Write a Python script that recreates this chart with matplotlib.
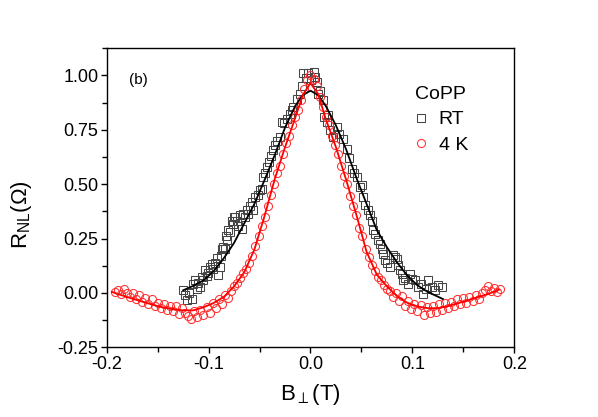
import matplotlib
matplotlib.use("Agg")
import matplotlib.pyplot as plt
from matplotlib.ticker import MultipleLocator, FormatStrFormatter

plt.rcParams['font.family'] = ['Liberation Sans', 'DejaVu Sans']
plt.rcParams['mathtext.fontset'] = 'custom'
plt.rcParams['mathtext.rm'] = 'Liberation Sans'
plt.rcParams['mathtext.it'] = 'Liberation Sans:italic'
plt.rcParams['mathtext.fallback'] = 'stixsans'
plt.rcParams['axes.unicode_minus'] = False

# ---------------- data ----------------
rt_x = [-0.1248, -0.123, -0.1216, -0.1195, -0.1167, -0.115, -0.1133, -0.1117, -0.110, -0.108,
        -0.1068, -0.105, -0.1035, -0.1018, -0.1002, -0.0985, -0.097, -0.0953, -0.0937, -0.092,
        -0.0905, -0.089, -0.0875, -0.087, -0.0855, -0.084, -0.083, -0.0822, -0.081, -0.079,
        -0.0775, -0.0758, -0.0755, -0.0741, -0.0725, -0.0708, -0.069, -0.0675, -0.066, -0.0643,
        -0.0625, -0.061, -0.059, -0.0575, -0.0561, -0.054, -0.0512, -0.0496, -0.048, -0.0463,
        -0.045, -0.043, -0.041, -0.039, -0.0365, -0.035, -0.033, -0.030, -0.0283, -0.026,
        -0.0235, -0.0201, -0.0185, -0.0169, -0.0135, -0.0103, -0.0085, -0.007, -0.0045, -0.002,
        0.0005, 0.003, 0.0045, 0.006, 0.0077, 0.0095, 0.0126, 0.0135, 0.0159, 0.017,
        0.019, 0.0224, 0.0257, 0.028, 0.0322, 0.0355, 0.038, 0.0404, 0.0425, 0.0453,
        0.0486, 0.0502, 0.0518, 0.0535, 0.0567, 0.0584, 0.060, 0.0616, 0.063, 0.0665,
        0.0682, 0.070, 0.0714, 0.073, 0.0755, 0.078, 0.0812, 0.083, 0.0846, 0.086,
        0.0878, 0.0895, 0.0911, 0.093, 0.096, 0.0976, 0.100, 0.1026, 0.1058, 0.108,
        0.1107, 0.113, 0.1156, 0.119, 0.1222, 0.1254, 0.1288]
rt_y = [0.012, -0.010, -0.034, 0.000, -0.026, 0.040, 0.058, 0.020, 0.045, 0.028,
        0.074, 0.060, 0.104, 0.080, 0.090, 0.120, 0.135, 0.110, 0.140, 0.160,
        0.081, 0.120, 0.170, 0.204, 0.210, 0.200, 0.260, 0.242, 0.290, 0.281,
        0.330, 0.319, 0.350, 0.350, 0.330, 0.310, 0.360, 0.296, 0.365, 0.350,
        0.380, 0.365, 0.400, 0.420, 0.380, 0.440, 0.450, 0.472, 0.480, 0.534,
        0.550, 0.580, 0.600, 0.630, 0.656, 0.680, 0.700, 0.718, 0.787, 0.780,
        0.800, 0.825, 0.840, 0.856, 0.890, 0.917, 0.950, 1.010, 0.990, 1.010,
        0.980, 1.016, 0.995, 0.970, 0.917, 0.930, 0.886, 0.810, 0.787, 0.820,
        0.748, 0.718, 0.764, 0.730, 0.710, 0.664, 0.620, 0.572, 0.550, 0.534,
        0.488, 0.495, 0.440, 0.403, 0.380, 0.360, 0.330, 0.288, 0.270, 0.242,
        0.227, 0.200, 0.181, 0.150, 0.140, 0.120, 0.173, 0.165, 0.158, 0.130,
        0.104, 0.085, 0.058, 0.070, 0.043, 0.089, 0.065, 0.058, 0.028, 0.040,
        -0.003, 0.020, 0.058, 0.028, 0.012, 0.035, 0.028]

lt_x = [-0.192, -0.189, -0.186, -0.183, -0.180, -0.177, -0.174, -0.171, -0.168, -0.165,
        -0.162, -0.159, -0.156, -0.153, -0.150, -0.147, -0.144, -0.141, -0.138, -0.135,
        -0.132, -0.129, -0.126, -0.123, -0.120, -0.117, -0.114, -0.111, -0.108, -0.105,
        -0.102, -0.099, -0.096, -0.093, -0.090, -0.087, -0.084, -0.081, -0.078, -0.075,
        -0.072, -0.069, -0.066, -0.063, -0.060, -0.057, -0.054, -0.051, -0.048, -0.045,
        -0.042, -0.039, -0.036, -0.033, -0.030, -0.027, -0.024, -0.021, -0.018, -0.015,
        -0.012, -0.009, -0.006, -0.003, 0.000, 0.003, 0.006, 0.009, 0.012, 0.015,
        0.018, 0.021, 0.024, 0.027, 0.030, 0.033, 0.036, 0.039, 0.042, 0.045,
        0.048, 0.051, 0.054, 0.057, 0.060, 0.063, 0.066, 0.069, 0.072, 0.075,
        0.078, 0.081, 0.084, 0.087, 0.090, 0.093, 0.096, 0.099, 0.102, 0.105,
        0.108, 0.111, 0.114, 0.117, 0.120, 0.123, 0.126, 0.129, 0.132, 0.135,
        0.138, 0.141, 0.144, 0.147, 0.150, 0.153, 0.156, 0.159, 0.162, 0.165,
        0.168, 0.171, 0.174, 0.177, 0.180, 0.183, 0.186]
lt_y = [0.005, 0.015, -0.005, 0.018, 0.000, -0.018, 0.002, -0.030, -0.010, -0.040,
        -0.022, -0.050, -0.030, -0.058, -0.045, -0.070, -0.050, -0.078, -0.058, -0.085,
        -0.062, -0.098, -0.070, -0.090, -0.108, -0.120, -0.085, -0.110, -0.078, -0.100,
        -0.065, -0.090, -0.045, -0.068, -0.030, -0.050, -0.008, -0.025, 0.010, 0.030,
        0.045, 0.070, 0.090, 0.110, 0.140, 0.170, 0.215, 0.260, 0.310, 0.350,
        0.400, 0.450, 0.500, 0.550, 0.585, 0.640, 0.690, 0.720, 0.770, 0.810,
        0.840, 0.885, 0.940, 0.980, 1.000, 0.985, 0.950, 0.900, 0.855, 0.810,
        0.770, 0.720, 0.680, 0.640, 0.585, 0.540, 0.500, 0.445, 0.400, 0.360,
        0.300, 0.260, 0.200, 0.165, 0.130, 0.100, 0.075, 0.060, 0.035, 0.020,
        0.010, -0.018, 0.000, -0.035, -0.015, -0.058, -0.035, -0.072, -0.050, -0.085,
        -0.055, -0.100, -0.065, -0.092, -0.060, -0.088, -0.052, -0.078, -0.045, -0.070,
        -0.040, -0.060, -0.030, -0.052, -0.025, -0.045, -0.018, -0.038, -0.010, -0.030,
        0.000, 0.015, 0.030, 0.010, 0.025, 0.005, 0.018]

rt_fit_x = [-0.125, -0.115, -0.105, -0.095, -0.085, -0.075, -0.065, -0.055, -0.045, -0.035,
            -0.025, -0.015, -0.0075, 0.0, 0.0075, 0.015, 0.025, 0.035, 0.045, 0.055,
            0.065, 0.075, 0.085, 0.095, 0.105, 0.115, 0.13]
rt_fit_y = [0.012, 0.033, 0.058, 0.100, 0.160, 0.230, 0.320, 0.410, 0.520, 0.635,
            0.760, 0.860, 0.910, 0.930, 0.910, 0.860, 0.770, 0.660, 0.530, 0.410,
            0.290, 0.210, 0.140, 0.080, 0.035, 0.005, -0.028]

lt_fit_x = [-0.195, -0.185, -0.175, -0.165, -0.155, -0.145, -0.135, -0.125, -0.115, -0.105,
            -0.095, -0.085, -0.075, -0.065, -0.055, -0.045, -0.035, -0.025, -0.015, -0.0075,
            0.0, 0.0075, 0.015, 0.025, 0.035, 0.045, 0.055, 0.065, 0.075, 0.085,
            0.095, 0.105, 0.115, 0.125, 0.135, 0.145, 0.155, 0.165, 0.175, 0.185]
lt_fit_y = [0.005, -0.011, -0.026, -0.040, -0.054, -0.066, -0.074, -0.080, -0.080, -0.066,
            -0.046, -0.018, 0.030, 0.095, 0.200, 0.355, 0.525, 0.670, 0.805, 0.910,
            0.965, 0.915, 0.800, 0.670, 0.520, 0.360, 0.190, 0.085, 0.030, -0.015,
            -0.045, -0.062, -0.070, -0.070, -0.060, -0.047, -0.033, -0.018, -0.004, 0.015]

x_ticks = [-0.2, -0.1, 0.0, 0.1, 0.2]
y_ticks = [-0.25, 0.00, 0.25, 0.50, 0.75, 1.00]

# ---------------- figure ----------------
fig = plt.figure(figsize=(5.98, 4.17), dpi=100)
ax = fig.add_axes([0.1784, 0.1671, 0.6816, 0.7171])

ax.plot(rt_x, rt_y, linestyle='none', marker='s', markersize=5.2,
        markerfacecolor='none', markeredgecolor='#454545', markeredgewidth=0.75,
        label='RT', zorder=2)
ax.plot(lt_x, lt_y, linestyle='none', marker='o', markersize=5.8,
        markerfacecolor='none', markeredgecolor='#ff3030', markeredgewidth=0.75,
        label='4 K', zorder=2)
ax.plot(rt_fit_x, rt_fit_y, color='black', linewidth=1.3, zorder=3)
ax.plot(lt_fit_x, lt_fit_y, color='#ff0000', linewidth=1.3, zorder=3)

ax.set_xlim(-0.2, 0.2)
ax.set_ylim(-0.25, 1.125)
ax.set_xticks(x_ticks)
ax.set_yticks(y_ticks)
ax.xaxis.set_minor_locator(MultipleLocator(0.05))
ax.yaxis.set_minor_locator(MultipleLocator(0.125))
ax.xaxis.set_major_formatter(FormatStrFormatter('%.1f'))
ax.yaxis.set_major_formatter(FormatStrFormatter('%.2f'))
ax.tick_params(which='both', direction='out', top=False, right=False, width=1.0)
ax.tick_params(which='major', length=4, labelsize=13, pad=2)
ax.tick_params(which='minor', length=3.5)
for s in ax.spines.values():
    s.set_linewidth(1.0)

ax.set_xlabel(r'B$_{\perp}$(T)', fontsize=16)
ax.xaxis.set_label_coords(0.5, -0.115)
ax.set_ylabel(r'R$_{\mathregular{NL}}$(Ω)', fontsize=16)
ax.yaxis.set_label_coords(-0.178, 0.444)

ax.text(-0.178, 0.978, '(b)', fontsize=11, va='center', ha='left')

leg = ax.legend(loc='upper left', bbox_to_anchor=(0.738, 0.90), frameon=False,
                title='CoPP', fontsize=14, title_fontsize=14, alignment='left',
                handletextpad=0.6, labelspacing=0.4, borderaxespad=0.0,
                handlelength=0.6, markerscale=1.0)

fig.savefig('out.png', dpi=100)
